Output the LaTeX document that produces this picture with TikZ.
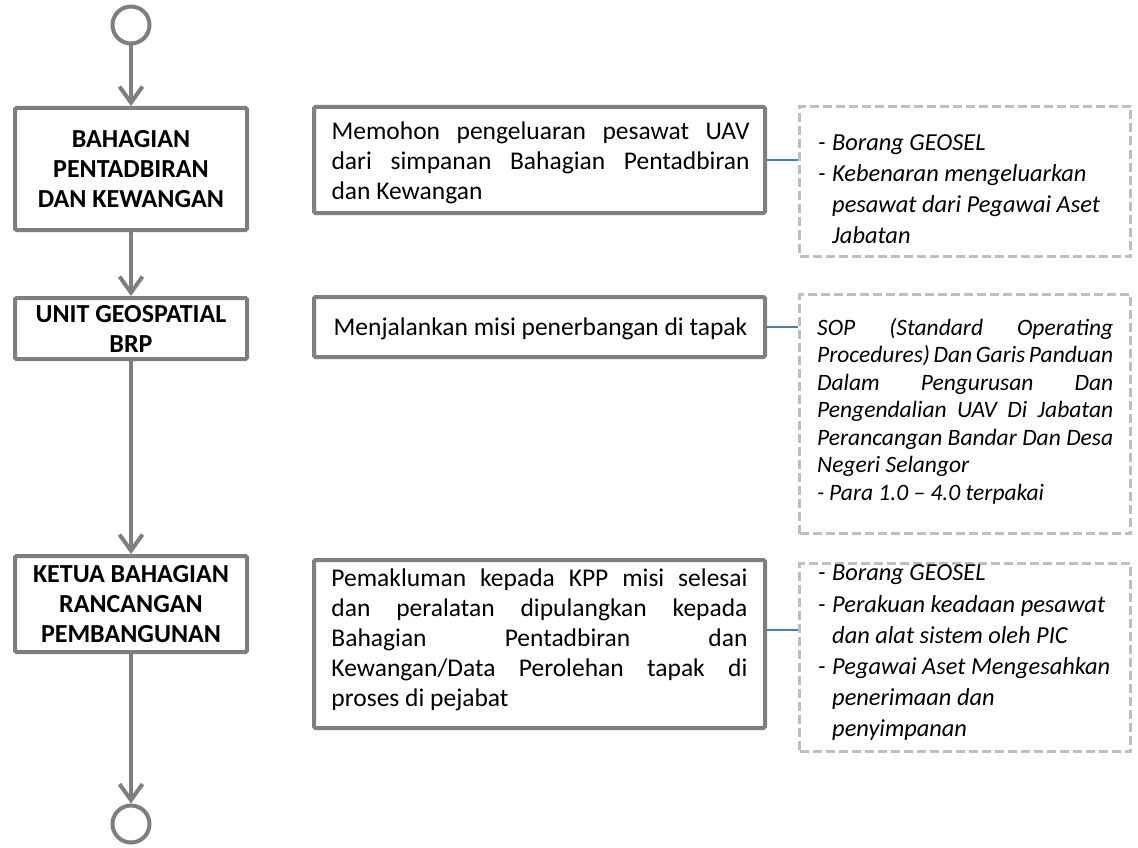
\documentclass[tikz,border=0pt]{standalone}
\usepackage{fontspec}
\setmainfont{Carlito}
\usetikzlibrary{arrows.meta}
\definecolor{boxgray}{HTML}{7F7F7F}
\definecolor{dashgray}{HTML}{BFBFBF}
\definecolor{linkblue}{HTML}{4A7EBB}
\newcommand{\jl}[2]{\makebox[#1][s]{#2}}
\newcommand{\itm}{\makebox[14pt][l]{-}}
\newcommand{\ind}{\hspace*{14pt}}
\begin{document}
\begin{tikzpicture}[x=1pt,y=-1pt,
 lane/.style={draw=boxgray, line width=4pt, rounded corners=1.5pt, fill=white,
   font=\bfseries\fontsize{26}{30}\selectfont, align=center,
   minimum width=232pt, inner sep=0pt},
 act/.style={draw=boxgray, line width=4pt, rounded corners=1.5pt, inner sep=0pt, minimum width=451pt},
 note/.style={draw=dashgray, line width=3pt, dash pattern=on 9pt off 4pt, inner sep=0pt, minimum width=331pt},
 flow/.style={draw=boxgray, line width=4pt, -{Straight Barb[length=16pt,width=23pt]}},
 term/.style={circle, draw=boxgray, line width=4pt, minimum size=37pt, inner sep=0pt},
 link/.style={draw=linkblue, line width=1.5pt},
 body/.style={font=\fontsize{25.5}{30}\selectfont, align=left, inner sep=0pt},
 notetext/.style={font=\itshape\fontsize{24.4}{31.2}\selectfont, align=left, inner sep=0pt, anchor=west},
]
\useasboundingbox[fill=white] (0,0) rectangle (1138,848);

% terminals
\node[term] (start) at (131,25) {};
\node[term] (end) at (131,824) {};

% lane boxes
\node[lane, minimum height=122pt] (b1) at (131,169) {BAHAGIAN\\PENTADBIRAN\\DAN KEWANGAN};
\node[lane, minimum height=61pt] (b2) at (131,328.5) {UNIT GEOSPATIAL\\BRP};
\node[lane, minimum height=96pt] (b3) at (131,604) {KETUA BAHAGIAN\\RANCANGAN\\PEMBANGUNAN};

% activity boxes
\node[act, minimum height=106pt] (m1) at (539.5,160) {};
\node[act, minimum height=60pt] (m2) at (539.5,327) {};
\node[act, minimum height=168pt] (m3) at (539.5,644) {};

\node[body] (m1t) at (541,163) {\jl{418pt}{Memohon pengeluaran pesawat UAV}\\
\jl{418pt}{dari simpanan Bahagian Pentadbiran}\\
dan Kewangan\hspace*{268pt}};
\node[body] (m2t) at (540.5,329) {Menjalankan misi penerbangan di tapak};
\node[body] (m3t) at (540,640) {\jl{416pt}{Pemakluman kepada KPP misi selesai}\\
\jl{416pt}{dan peralatan dipulangkan kepada}\\
\jl{416pt}{Bahagian Pentadbiran dan}\\
\jl{416pt}{Kewangan/Data Perolehan tapak di}\\
proses di pejabat\hspace*{240pt}};

% note boxes
\node[note, minimum height=150pt] (r1) at (965,181.5) {};
\node[note, minimum height=239pt] (r2) at (965,414) {};
\node[note, minimum height=188pt] (r3) at (965,657.5) {};

\node[notetext] (r1t) at (818,189) {\itm Borang GEOSEL\\
\itm Kebenaran mengeluarkan\\
\ind pesawat dari Pegawai Aset\\
\ind Jabatan};
\node[notetext, font=\itshape\fontsize{23.5}{27.5}\selectfont] (r2t) at (817,411) {\jl{296pt}{SOP (Standard Operating}\\
\jl{296pt}{Procedures) Dan Garis Panduan}\\
\jl{296pt}{Dalam Pengurusan Dan}\\
\jl{296pt}{Pengendalian UAV Di Jabatan}\\
\jl{296pt}{Perancangan Bandar Dan Desa}\\
Negeri Selangor\\
\makebox[12pt][l]{-}Para 1.0 -- 4.0 terpakai};
\node[notetext] (r3t) at (818,653) {\itm Borang GEOSEL\\
\itm Perakuan keadaan pesawat\\
\ind dan alat sistem oleh PIC\\
\itm Pegawai Aset Mengesahkan\\
\ind penerimaan dan\\
\ind penyimpanan};

% flow connectors
\draw[flow] (start) -- (b1);
\draw[flow] (b1) -- (b2);
\draw[flow] (b2) -- (b3);
\draw[flow] (b3) -- (end);

% annotation links
\draw[link] (m1.east) -- (m1.east -| r1.west);
\draw[link] (m2.east) -- (m2.east -| r2.west);
\draw[link] (m3.east |- 0,630) -- (r3.west |- 0,630);
\end{tikzpicture}
\end{document}
